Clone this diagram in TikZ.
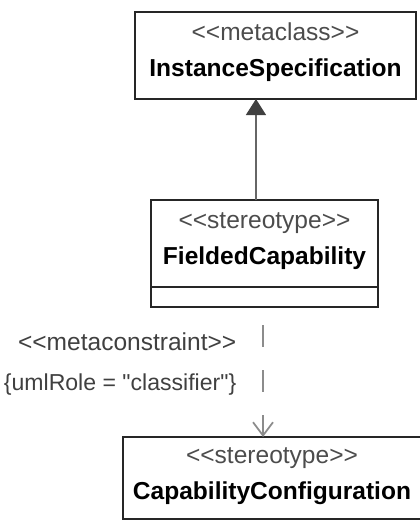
\documentclass[tikz,border=0pt]{standalone}
\usepackage{fontspec}
\setmainfont{Liberation Sans}
\usetikzlibrary{arrows.meta,positioning}
\newcommand{\stereo}[1]{<{}<#1>{}>}
\newcommand{\umlhead}[2]{\raisebox{3pt}[\height][\depth]{\begin{tabular}{@{}c@{}}\textcolor{black!70}{\stereo{#1}}\\\textbf{#2}\end{tabular}}}

\begin{document}
\begin{tikzpicture}[
    x=0.75pt, y=-0.75pt,
    font=\fontsize{18.4pt}{27pt}\selectfont,
    umlclass/.style={draw=black!85, line width=1.3pt, inner sep=0pt, outer sep=0pt, minimum height=65.25pt},
    inherit/.style={draw=black!60, line width=1pt, -{Triangle[length=12pt,width=15pt,color=black!75]}},
    depend/.style={draw=black!45, line width=1.3pt, dash pattern=on 16.5pt off 17.25pt, dash phase=20.25pt, -{Straight Barb[length=10pt,width=15pt]}}
  ]
    \useasboundingbox (0,0) rectangle (420,521);

    \node[umlclass, minimum width=210.75pt] (instspec) at (275.5,55.5) {\umlhead{metaclass}{InstanceSpecification}};
    \node[umlclass, minimum width=170.25pt] (fielded) at (264.5,243.5) {\umlhead{stereotype}{FieldedCapability}};
    \node[umlclass, minimum width=170.25pt, minimum height=15pt, below=0pt of fielded] (fieldedops) {};
    \node[umlclass, minimum width=223.5pt, minimum height=61.5pt] (capconf) at (272,478) {\umlhead{stereotype}{CapabilityConfiguration}};

    \coordinate (genbase) at ([xshift=-6.4pt]fielded.north);
    \coordinate (depbase) at ([xshift=-1.1pt]fieldedops.south);

    \draw[inherit] (genbase) -- (genbase |- instspec.south);
    \draw[depend] (depbase) -- (depbase |- capconf.north);

    \node[anchor=east, align=right, text=black!75] (constraint) at (241,364) {\stereo{metaconstraint}\\[3pt]{\fontsize{17.3pt}{27pt}\selectfont\{umlRole = \textquotedbl classifier\textquotedbl\}}};
  \end{tikzpicture}
\end{document}
